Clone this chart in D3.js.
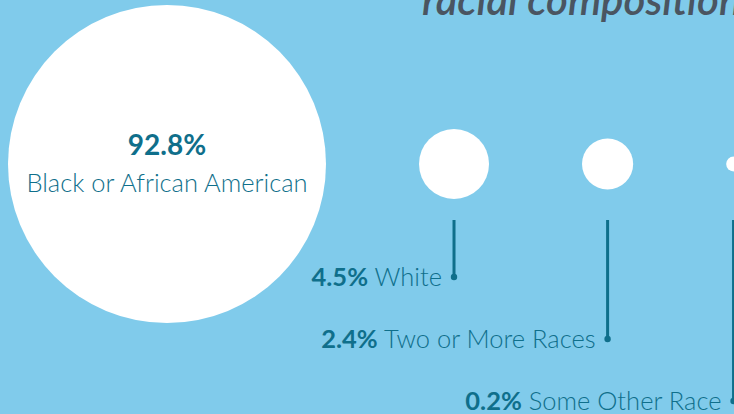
<!DOCTYPE html>
<html>
<head>
<meta charset="utf-8">
<script src="https://cdn.jsdelivr.net/npm/d3@7"></script>
<style>
  body { margin: 0; background: #80cbeb; overflow: hidden; }
  text { font-family: Lato, "Open Sans", sans-serif; }
</style>
</head>
<body>
<script>
const width = 734;
const height = 414;
const teal = "#0f6f8b";

// racial composition, share of population (%)
var races = ["Black or African American", "White", "Two or More Races", "Some Other Race"];
var shares = [92.8, 4.5, 2.4, 0.2];
var title = "racial composition";

var svg = d3.select("body")
  .append("svg")
  .attr("width", width)
  .attr("height", height);

// circle area proportional to share
var r = d3.scaleSqrt().domain([0, d3.max(shares)]).range([0, 159]);
var gap = 93;
var cy = 164;

// pack circles left to right with a constant gap
var cx = [];
shares.forEach(function(d, i) {
  if (i == 0) cx.push(8 + r(d));
  else cx.push(cx[i - 1] + r(shares[i - 1]) + gap + r(d));
});

// rows for the small labels
var row = d3.scaleLinear().domain([1, 3]).range([277, 401]);

svg.append("text")
  .attr("x", 422)
  .attr("y", 15)
  .attr("fill", "#4a5561")
  .style("font-size", "42px")
  .style("font-weight", 600)
  .style("font-style", "italic")
  .text(title);

svg.selectAll("circle.race")
  .data(shares)
  .enter()
  .append("circle")
  .attr("class", "race")
  .attr("cx", function(d, i) { return cx[i]; })
  .attr("cy", cy)
  .attr("r", function(d) { return r(d); })
  .attr("fill", "#fff");

// big one has label inside
svg.append("text")
  .attr("x", cx[0])
  .attr("y", 155)
  .attr("text-anchor", "middle")
  .attr("fill", teal)
  .style("font-size", "28px")
  .style("font-weight", 700)
  .text(shares[0] + "%");

svg.append("text")
  .attr("x", cx[0])
  .attr("y", 192)
  .attr("text-anchor", "middle")
  .attr("fill", teal)
  .style("font-size", "25.5px")
  .style("font-weight", 300)
  .text(races[0]);

// leader lines for the rest
var small = d3.range(1, shares.length);

svg.selectAll("line.lead")
  .data(small)
  .enter()
  .append("line")
  .attr("class", "lead")
  .attr("x1", function(i) { return cx[i]; })
  .attr("x2", function(i) { return cx[i]; })
  .attr("y1", 220)
  .attr("y2", function(i) { return row(i); })
  .attr("stroke", teal)
  .attr("stroke-width", 3);

svg.selectAll("circle.dot")
  .data(small)
  .enter()
  .append("circle")
  .attr("class", "dot")
  .attr("cx", function(i) { return cx[i]; })
  .attr("cy", function(i) { return row(i); })
  .attr("r", 3.2)
  .attr("fill", teal);

var labels = svg.selectAll("text.lab")
  .data(small)
  .enter()
  .append("text")
  .attr("class", "lab")
  .attr("x", function(i) { return cx[i] - 12; })
  .attr("y", function(i) { return row(i) + 9; })
  .attr("text-anchor", "end")
  .attr("fill", teal)
  .style("font-size", "25.5px");

labels.append("tspan")
  .style("font-weight", 700)
  .text(function(i) { return shares[i] + "%"; });

labels.append("tspan")
  .style("font-weight", 300)
  .text(function(i) { return " " + races[i]; });
</script>
</body>
</html>
